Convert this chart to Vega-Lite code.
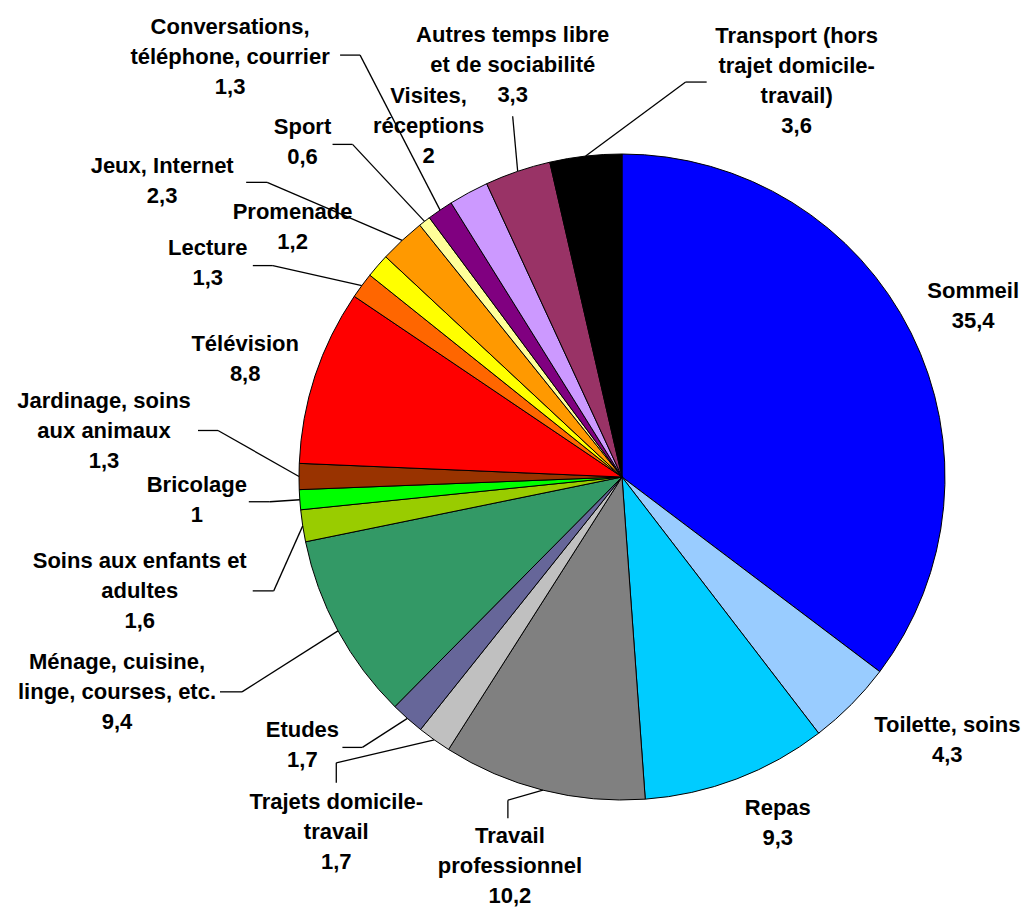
{
  "$schema": "https://vega.github.io/schema/vega-lite/v6.json",
  "width": 810,
  "height": 810,
  "autosize": "none",
  "padding": {"left": 217, "top": 72, "right": 0, "bottom": 27},
  "background": "white",
  "view": {"stroke": null},
  "data": {
    "values": [
      {"activite": "Sommeil", "valeur": 35.4},
      {"activite": "Toilette, soins", "valeur": 4.3},
      {"activite": "Repas", "valeur": 9.3},
      {"activite": "Travail\nprofessionnel", "valeur": 10.2},
      {"activite": "Trajets domicile-\ntravail", "valeur": 1.7},
      {"activite": "Etudes", "valeur": 1.7},
      {"activite": "Ménage, cuisine,\nlinge, courses, etc.", "valeur": 9.4},
      {"activite": "Soins aux enfants et\nadultes", "valeur": 1.6},
      {"activite": "Bricolage", "valeur": 1},
      {"activite": "Jardinage, soins\naux animaux", "valeur": 1.3},
      {"activite": "Télévision", "valeur": 8.8},
      {"activite": "Lecture", "valeur": 1.3},
      {"activite": "Promenade", "valeur": 1.2},
      {"activite": "Jeux, Internet", "valeur": 2.3},
      {"activite": "Sport", "valeur": 0.6},
      {"activite": "Conversations,\ntéléphone, courrier", "valeur": 1.3},
      {"activite": "Visites,\nréceptions", "valeur": 2},
      {"activite": "Autres temps libre\net de sociabilité", "valeur": 3.3},
      {"activite": "Transport (hors\ntrajet domicile-\ntravail)", "valeur": 3.6}
    ]
  },
  "transform": [
    {"window": [{"op": "row_number", "as": "i"}]},
    {"window": [{"op": "sum", "field": "valeur", "as": "cum"}], "sort": [{"field": "i"}], "frame": [null, 0]},
    {"joinaggregate": [{"op": "sum", "field": "valeur", "as": "total"}]},
    {"calculate": "2*PI*(datum.cum - datum.valeur/2)/datum.total", "as": "mid"},
    {"calculate": "323*sin(datum.mid)", "as": "ax"},
    {"calculate": "323*cos(datum.mid)", "as": "ay"},
    {"calculate": "datum.activite + '\\n' + replace(format(datum.valeur, '.1~f'), '.', ',')", "as": "etiquette"}
  ],
  "layer": [
    {
      "mark": {"type": "arc", "outerRadius": 323, "stroke": "black", "strokeWidth": 1},
      "encoding": {
        "theta": {"field": "valeur", "type": "quantitative", "stack": true},
        "order": {"field": "i", "type": "quantitative"},
        "color": {
          "field": "activite",
          "type": "nominal",
          "sort": {"field": "i", "op": "min"},
          "scale": {"range": ["#0000FF", "#99CCFF", "#00CCFF", "#808080", "#C0C0C0", "#666699", "#339966", "#99CC00", "#00FF00", "#993300", "#FF0000", "#FF6600", "#FFFF00", "#FF9900", "#FFFF99", "#800080", "#CC99FF", "#993366", "#000000"]},
          "legend": null
        }
      }
    },
    {
      "transform": [
        {"calculate": "[null,null,null,[-35,10,-35,28],[-98,23,-98,43],[-45,29,-65,29],[-96,61,-118,61],[-29,65,-50,65],[-30,2,-51,2],[-81,-46,-101,-46],null,[-89,-20,-109,-20],null,[-135,-58,-156,-58],[-72,-77,-92,-77],[-80,-155,-100,-155],null,[-5,-55,-5,-55],[100,-74,121,-74]][datum.i-1]", "as": "ld"},
        {"filter": "datum.ld != null"},
        {"calculate": "datum.ax + datum.ld[0]", "as": "p1x"},
        {"calculate": "datum.ay - datum.ld[1]", "as": "p1y"}
      ],
      "mark": {"type": "rule", "color": "black", "strokeWidth": 1.3},
      "encoding": {
        "x": {"field": "ax", "type": "quantitative", "scale": {"domain": [-405, 405], "nice": false, "zero": false}, "axis": null},
        "y": {"field": "ay", "type": "quantitative", "scale": {"domain": [-405, 405], "nice": false, "zero": false}, "axis": null},
        "x2": {"field": "p1x"},
        "y2": {"field": "p1y"}
      }
    },
    {
      "transform": [
        {"calculate": "[null,null,null,[-35,10,-35,28],[-98,23,-98,43],[-45,29,-65,29],[-96,61,-118,61],[-29,65,-50,65],[-30,2,-51,2],[-81,-46,-101,-46],null,[-89,-20,-109,-20],null,[-135,-58,-156,-58],[-72,-77,-92,-77],[-80,-155,-100,-155],null,[-5,-55,-5,-55],[100,-74,121,-74]][datum.i-1]", "as": "ld"},
        {"filter": "datum.ld != null"},
        {"calculate": "datum.ax + datum.ld[0]", "as": "p1x"},
        {"calculate": "datum.ay - datum.ld[1]", "as": "p1y"},
        {"calculate": "datum.ax + datum.ld[2]", "as": "p2x"},
        {"calculate": "datum.ay - datum.ld[3]", "as": "p2y"}
      ],
      "mark": {"type": "rule", "color": "black", "strokeWidth": 1.3},
      "encoding": {
        "x": {"field": "p1x", "type": "quantitative"},
        "y": {"field": "p1y", "type": "quantitative"},
        "x2": {"field": "p2x"},
        "y2": {"field": "p2y"}
      }
    },
    {
      "transform": [
        {"calculate": "[[62,-27],[96,36],[41,44],[-33,76],[-98,92],[-105,27],[-221,61],[-163,65],[-103,0],[-195,-45],[-70,-17],[-154,-23],[-85,-39],[-240,-59],[-122,-79],[-210,-153],[-40,-67],[-5,-106],[211,-75]][datum.i-1]", "as": "off"},
        {"calculate": "length(split(datum.etiquette, '\\n'))", "as": "n"},
        {"calculate": "datum.ax + datum.off[0]", "as": "lx"},
        {"calculate": "datum.ay - datum.off[1] + (datum.n - 1) * 15", "as": "ly"}
      ],
      "mark": {"type": "text", "font": "Liberation Sans", "fontWeight": "bold", "fontSize": 22, "lineBreak": "\n", "lineHeight": 30, "align": "center", "baseline": "middle", "color": "black"},
      "encoding": {
        "x": {"field": "lx", "type": "quantitative"},
        "y": {"field": "ly", "type": "quantitative"},
        "text": {"field": "etiquette"}
      }
    }
  ]
}
